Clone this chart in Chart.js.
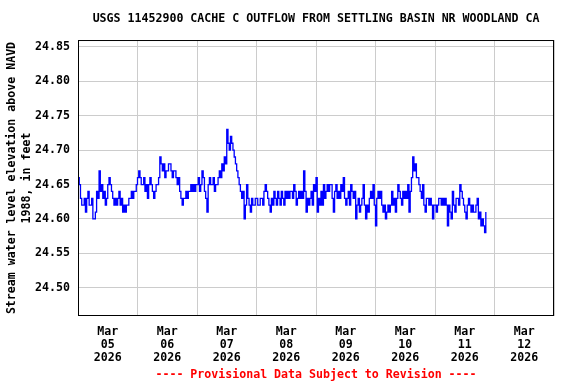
<!DOCTYPE html>
<html><head><meta charset="utf-8">
<script src="https://cdn.jsdelivr.net/npm/chart.js@4"></script>
<style>html,body{margin:0;padding:0;background:#fff}#wrap{width:576px;height:384px}</style>
</head><body><div id="wrap"><canvas id="c" width="576" height="384"></canvas></div>
<script>
/* ===== data ===== */
const SITE_TITLE='USGS 11452900 CACHE C OUTFLOW FROM SETTLING BASIN NR WOODLAND CA';
const Y_TITLE=['Stream water level elevation above NAVD','1988, in feet'];
const FOOTNOTE='---- Provisional Data Subject to Revision ----';
const MONTH='Mar',YEAR='2026';
const DAYS=['05','06','07','08','09','10','11','12'];
const Y_TICKS=[24.50,24.55,24.60,24.65,24.70,24.75,24.80,24.85];
const Y_MIN=24.459,Y_MAX=24.86;
const STEP_H=0.5; // readings every 30 min starting Mar 05 00:00
const GAGE=[
 // Mar 05
 24.66,24.65,24.63,24.62,24.62,24.63,24.61,24.63,24.64,24.62,24.62,24.63,24.60,24.60,24.61,24.64,24.63,24.67,24.64,24.65,24.63,24.64,24.62,24.63,
 24.65,24.66,24.65,24.64,24.63,24.62,24.63,24.62,24.63,24.64,24.62,24.63,24.61,24.62,24.61,24.62,24.62,24.63,24.63,24.64,24.63,24.64,24.64,24.65,
 // Mar 06
 24.66,24.67,24.66,24.65,24.65,24.66,24.64,24.65,24.63,24.65,24.66,24.65,24.64,24.63,24.64,24.65,24.65,24.66,24.69,24.68,24.67,24.68,24.66,24.67,
 24.67,24.68,24.68,24.67,24.66,24.67,24.67,24.66,24.65,24.66,24.64,24.63,24.62,24.63,24.63,24.64,24.63,24.64,24.64,24.65,24.64,24.65,24.64,24.65,
 // Mar 07
 24.65,24.66,24.64,24.65,24.67,24.66,24.64,24.63,24.61,24.65,24.66,24.65,24.65,24.66,24.64,24.65,24.65,24.66,24.67,24.66,24.68,24.67,24.69,24.68,
 24.73,24.71,24.70,24.72,24.71,24.70,24.69,24.68,24.67,24.66,24.65,24.64,24.63,24.64,24.60,24.62,24.65,24.63,24.62,24.61,24.63,24.62,24.62,24.63,
 // Mar 08
 24.63,24.62,24.62,24.63,24.63,24.62,24.64,24.65,24.64,24.63,24.62,24.61,24.63,24.62,24.64,24.63,24.62,24.64,24.63,24.62,24.64,24.63,24.62,24.64,
 24.63,24.64,24.63,24.64,24.64,24.63,24.65,24.64,24.62,24.63,24.64,24.63,24.64,24.63,24.67,24.64,24.61,24.63,24.62,24.63,24.64,24.62,24.65,24.64,
 // Mar 09
 24.66,24.61,24.63,24.62,24.64,24.62,24.65,24.63,24.64,24.65,24.64,24.65,24.65,24.63,24.61,24.64,24.65,24.63,24.64,24.63,24.65,24.64,24.66,24.63,
 24.62,24.63,24.64,24.62,24.65,24.64,24.63,24.64,24.60,24.62,24.63,24.61,24.62,24.63,24.65,24.62,24.60,24.62,24.61,24.63,24.64,24.63,24.65,24.62,
 // Mar 10
 24.59,24.63,24.64,24.63,24.64,24.62,24.61,24.62,24.60,24.61,24.62,24.61,24.62,24.64,24.62,24.63,24.61,24.63,24.65,24.64,24.63,24.62,24.64,24.63,
 24.64,24.63,24.65,24.61,24.64,24.66,24.69,24.67,24.68,24.66,24.66,24.65,24.64,24.63,24.65,24.62,24.61,24.63,24.63,24.62,24.63,24.62,24.60,24.62,
 // Mar 11
 24.62,24.61,24.62,24.63,24.63,24.62,24.63,24.62,24.63,24.62,24.59,24.62,24.61,24.60,24.64,24.62,24.61,24.63,24.63,24.62,24.65,24.64,24.63,24.62,
 24.61,24.60,24.62,24.63,24.62,24.61,24.62,24.61,24.61,24.62,24.63,24.60,24.61,24.59,24.60,24.59,24.58,24.61
];

/* ===== style ===== */
const MONO='"DejaVu Sans Mono", monospace';
const f=(size,lh)=>({family:MONO,size,weight:'bold',lineHeight:lh});

const frame={id:'frame',afterDatasetsDraw(c){
  const {ctx,chartArea:a}=c;ctx.save();ctx.strokeStyle='#000';ctx.lineWidth=1;
  ctx.strokeRect(a.left+0.5,a.top+0.5,a.width-1,a.height-1);ctx.restore();
}};

new Chart(document.getElementById('c'),{
  type:'line',
  data:{datasets:[{
    data:GAGE.map((v,i)=>({x:i*STEP_H,y:v})),
    borderColor:'#0000ff',borderWidth:1.3,pointRadius:0,stepped:true,fill:false
  }]},
  options:{
    responsive:false,animation:false,devicePixelRatio:1,
    layout:{padding:{right:22}},
    plugins:{
      legend:{display:false},tooltip:{enabled:false},
      title:{display:true,text:SITE_TITLE,fullSize:false,color:'#000',font:f(11.6,1.2),padding:{top:12,bottom:14.1}}
    },
    scales:{
      x:{
        type:'linear',min:0,max:DAYS.length*24,
        afterBuildTicks:s=>{const t=[];for(let k=0;k<=DAYS.length;k++){t.push({value:k*24});if(k<DAYS.length)t.push({value:k*24+12});}s.ticks=t;},
        afterFit:s=>{s.height=68;},
        grid:{drawTicks:false,color:c=>c.tick&&c.tick.value%24===0?'#cccccc':'rgba(0,0,0,0)'},
        border:{display:false},
        ticks:{autoSkip:false,maxRotation:0,padding:9,color:'#000',font:f(11.6,'13px'),
          callback:v=>v%24===12?[MONTH,DAYS[(v-12)/24],YEAR]:''},
        title:{display:true,text:FOOTNOTE,color:'#ff0000',font:f(11.6,1.25),padding:{top:0,bottom:1.5}}
      },
      y:{
        min:Y_MIN,max:Y_MAX,
        afterBuildTicks:s=>{s.ticks=Y_TICKS.map(v=>({value:v}));},
        afterFit:s=>{s.width=78;},
        grid:{drawTicks:false,color:'#cccccc'},
        border:{display:false},
        ticks:{padding:8,color:'#000',font:f(11.6,1.2),callback:v=>v.toFixed(2)},
        title:{display:true,text:Y_TITLE,color:'#000',font:f(11.6,'15px'),padding:{top:4.5,bottom:0}}
      }
    }
  },
  plugins:[frame]
});
</script></body></html>
